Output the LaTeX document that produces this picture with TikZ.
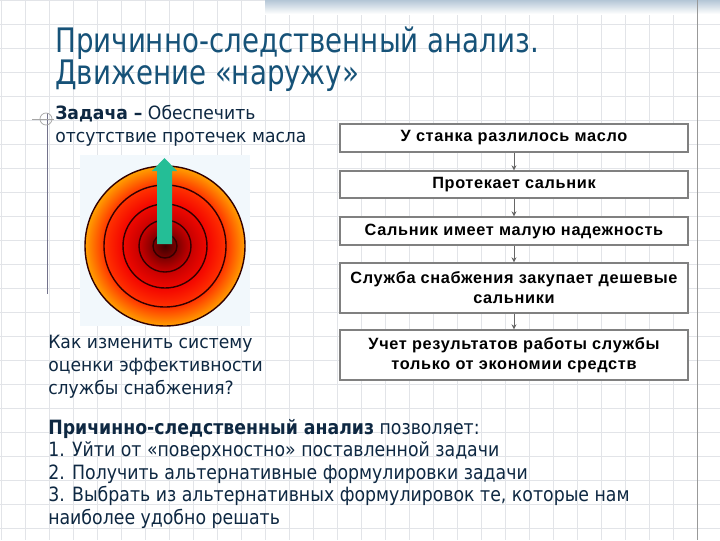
\documentclass[tikz,border=0pt]{standalone}
\usepackage{fontspec}
\setmainfont{DejaVu Sans}
\newfontfamily\titlefont[FakeStretch=0.82]{DejaVu Sans}
\newfontfamily\bodyfont[FakeStretch=0.94]{DejaVu Sans}
\newfontfamily\notefont[FakeStretch=0.88]{DejaVu Sans}
\newfontfamily\boxfont[LetterSpace=4]{Liberation Sans}
\usetikzlibrary{arrows.meta, positioning}

\definecolor{titleblue}{RGB}{22,82,120}
\definecolor{textnavy}{RGB}{14,40,66}
\definecolor{gridgray}{RGB}{226,228,232}
\definecolor{boxgray}{RGB}{128,128,128}
\definecolor{arrowgreen}{RGB}{36,190,150}
\definecolor{ringdark}{RGB}{50,0,0}
\definecolor{picbg}{RGB}{242,248,252}
\definecolor{bandblue}{RGB}{180,198,214}
\definecolor{tgtA}{RGB}{60,0,0}
\definecolor{tgtB}{RGB}{130,0,0}
\definecolor{tgtC}{RGB}{200,0,0}
\definecolor{tgtD}{RGB}{245,10,0}
\definecolor{tgtE}{RGB}{255,50,0}
\definecolor{tgtF}{RGB}{255,160,0}

\pgfdeclareradialshading{targetfill}{\pgfpoint{0bp}{0bp}}{%
  color(0bp)=(tgtA); color(4bp)=(tgtB); color(8bp)=(tgtC);
  color(14bp)=(tgtD); color(19bp)=(tgtE); color(25bp)=(tgtF);
  color(50bp)=(tgtF)}

\begin{document}
\begin{tikzpicture}[x=0.025cm, y=-0.025cm,
    gridline/.style={gridgray, line width=0.5pt},
    titletext/.style={anchor=base west, inner sep=0pt, text=titleblue,
      font=\titlefont\fontsize{24}{28}\selectfont},
    tasktext/.style={anchor=base west, inner sep=0pt, text=textnavy,
      font=\bodyfont\fontsize{13}{17}\selectfont},
    notetext/.style={anchor=base west, inner sep=0pt, text=textnavy,
      font=\notefont\fontsize{14}{16}\selectfont},
    flowbox/.style={draw=boxgray, fill=white, line width=1pt,
      minimum width=348*0.025cm, align=center, inner sep=0pt,
      font=\boxfont\bfseries\fontsize{11.6}{14.2}\selectfont},
    flowarrow/.style={-{Stealth[length=3.5pt, width=3.5pt]}, gray!80!black, line width=0.6pt},
    ringline/.style={ringdark, line width=1pt}]
  \useasboundingbox (0,0) rectangle (720,540);

  % Background grid
  \fill[white] (0,0) rectangle (720,540);
  \foreach \x in {1,25,...,697} \draw[gridline] (\x,0) -- (\x,540);
  \foreach \y in {0,24,...,528} \draw[gridline] (0,\y) -- (720,\y);
  \fill[top color=bandblue, bottom color=white] (265,0) rectangle (720,14);
  \draw[gray!80, line width=0.7pt] (697,0) -- (697,540);

  % Left rule with crosshair
  \draw[gray!90!blue, line width=0.6pt] (47,113) -- (47,294);
  \draw[gray!70, line width=0.5pt] (32,119) -- (54,119);
  \draw[gray!70, line width=0.5pt] (46,119) circle[radius=6];

  % Title
  \node[titletext] (title1) at (55,52) {Причинно-следственный анализ.};
  \node[titletext] (title2) at (55,84) {Движение «наружу»};

  % Task
  \node[tasktext] (task1) at (55,119) {\textbf{Задача –} Обеспечить};
  \node[tasktext] (task2) at (55,142) {отсутствие протечек масла};

  % Target picture
  \fill[picbg] (80,155) rectangle (250,326);
  \shade[shading=targetfill] (165,246) circle[radius=80];
  \foreach \r in {80,61,42,26,12}
    \draw[ringline] (165,246) circle[radius=\r];
  \fill[arrowgreen] (157,244) -- (157,171) -- (152,171) -- (164.5,158)
    -- (177,171) -- (172,171) -- (172,244) -- cycle;

  % Question
  \node[tasktext] (ask1) at (48,348) {Как изменить систему};
  \node[tasktext] (ask2) at (48,371) {оценки эффективности};
  \node[tasktext] (ask3) at (48,394) {службы снабжения?};

  % Cause chain
  \node[flowbox, minimum height=28*0.025cm] (cause1) at (514,138) {У станка разлилось масло};
  \node[flowbox, minimum height=27*0.025cm] (cause2) at (514,184.5) {Протекает сальник};
  \node[flowbox, minimum height=28*0.025cm] (cause3) at (514,231) {Сальник имеет малую надежность};
  \node[flowbox, minimum height=50*0.025cm] (cause4) at (514,288) {Служба снабжения закупает дешевые\\сальники};
  \node[flowbox, minimum height=50*0.025cm] (cause5) at (514,355) {Учет результатов работы службы\\только от экономии средств};
  \draw[flowarrow] (cause1) -- (cause2);
  \draw[flowarrow] (cause2) -- (cause3);
  \draw[flowarrow] (cause3) -- (cause4);
  \draw[flowarrow] (cause4) -- (cause5);

  % Conclusion
  \node[notetext] (note1) at (48,434) {\textbf{Причинно-следственный анализ} позволяет:};
  \node[notetext] (note2) at (48,456.5) {1. Уйти от «поверхностно» поставленной задачи};
  \node[notetext] (note3) at (48,479) {2. Получить альтернативные формулировки задачи};
  \node[notetext] (note4) at (48,501.5) {3. Выбрать из альтернативных формулировок те, которые нам};
  \node[notetext] (note5) at (48,524) {наиболее удобно решать};
\end{tikzpicture}
\end{document}
